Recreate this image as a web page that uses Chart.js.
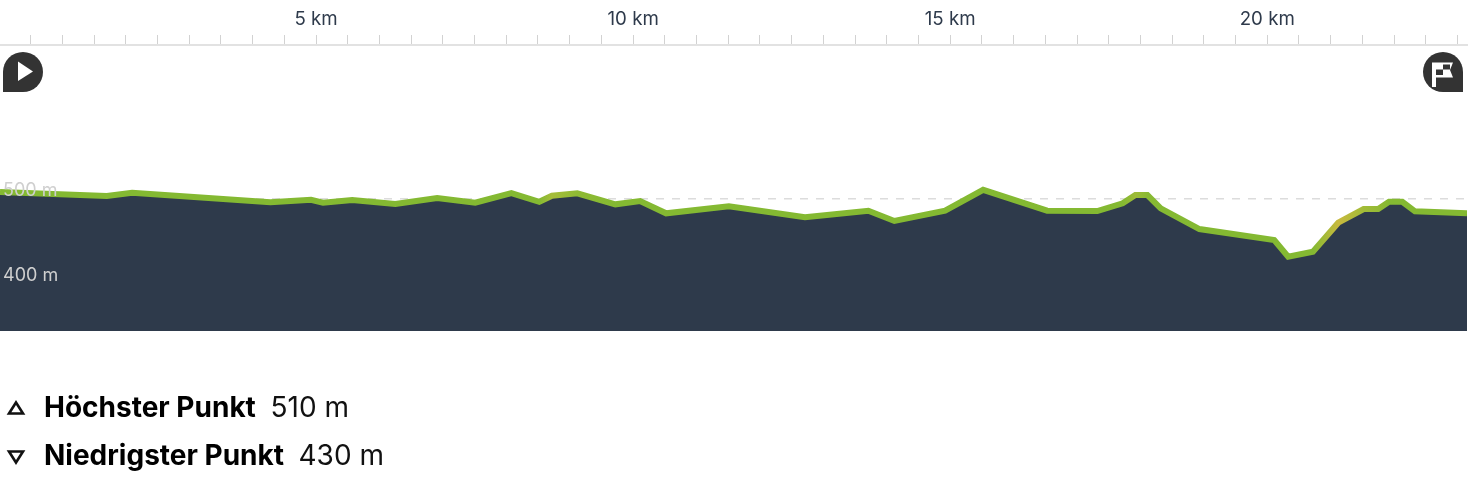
<!DOCTYPE html>
<html lang="de">
<head>
<meta charset="utf-8">
<title>Höhenprofil</title>
<script src="https://cdn.jsdelivr.net/npm/chart.js@4"></script>
<style>
html,body{margin:0;padding:0;background:#fff;width:1470px;height:478px;overflow:hidden}
#wrap{position:relative;width:1470px;height:478px}
canvas{position:absolute;left:0;top:0}
.badge{position:absolute;left:0;top:0}
.stat{position:absolute;font-family:Inter,sans-serif;font-size:28px;line-height:32px;color:#000;white-space:nowrap}
.stat b{position:absolute;left:0;top:0;font-weight:700}
.stat span{position:absolute;top:0;font-weight:400;color:#111}
</style>
</head>
<body>
<div id="wrap">
<canvas id="c" width="1470" height="478"></canvas>
<svg class="badge" width="1470" height="478" viewBox="0 0 1470 478">
  <path d="M3 72a20 20 0 1 1 20 20H3z" fill="#333"/>
  <path d="M18 61.5L33 71.5L18 81z" fill="#fff"/>
  <path d="M1463 72a20 20 0 1 0 -20 20h20z" fill="#333"/>
  <path d="M1432 62.500h21l-3 7.500l3 7.500h-17v9.500h-4z" fill="#fff"/>
  <path d="M1436 69.500h7v5.500h-7zM1443 64.500h7v5h-7z" fill="#333"/>
  <path d="M16 402.500l7 11h-14z" fill="none" stroke="#111" stroke-width="2.600"/>
  <path d="M16 462.500l7 -11h-14z" fill="none" stroke="#111" stroke-width="2.600"/>
</svg>
<div class="stat" id="s0" style="left:44px;top:391px"></div>
<div class="stat" id="s1" style="left:44px;top:439px"></div>
</div>
<script>
const distanceKm = [0.016,1.70,2.10,4.28,4.92,5.11,5.57,6.25,6.91,7.51,8.08,8.52,8.72,9.12,9.72,10.11,10.52,11.51,12.71,13.71,14.12,14.92,15.52,16.53,17.32,17.72,17.92,18.11,18.32,18.93,20.11,20.33,20.72,21.12,21.52,21.75,21.92,22.13,22.33,23.15];
const elevationM = [508.5,503.8,507.6,496.4,499.4,495.9,499,494.4,501.4,495.9,507.3,497,504.1,506.9,494,497.9,483.4,491.6,478.7,486.5,474.4,486.5,511,486.5,486.1,495.2,504.9,504.9,489.3,464.9,452,432.4,438.2,472.4,488.5,488.5,497,497,485.8,483.4];
const lineColors = ['#84b932','#84b932','#84b932','#84b932','#84b932','#84b932','#84b932','#84b932','#84b932','#84b932','#84b932','#84b932','#a6bd3a','#8fba34','#84b932','#84b932','#84b932','#84b932','#84b932','#84b932','#84b932','#84b932','#84b932','#84b932','#84b932','#84b932','#9ebb37','#8aba33','#84b932','#84b932','#84b932','#84b932','#84b932','#c8b93e','#a2bc38','#94ba35','#84b932','#84b932','#84b932','#84b932'];
const yTickValues = [400,500];
const xLabelEvery = 5;
const statLabels = ['Höchster Punkt','Niedrigster Punkt'];
const statValues = ['510 m','430 m'];
const statValueLeft = [226.5,254.5];

statLabels.forEach((t,i)=>{
  const el=document.getElementById('s'+i);
  el.innerHTML='<b></b><span></span>';
  el.children[0].textContent=t;
  el.children[1].textContent=statValues[i];
  el.children[1].style.left=statValueLeft[i]+'px';
});

const points = distanceKm.map((x,i)=>({x,y:elevationM[i]}));
const xMin = 0.016, xMax = 23.15;
const lineGradient = c => {
  const area=c.chart.chartArea;
  if(!area) return lineColors[0];
  const g=c.chart.ctx.createLinearGradient(area.left,0,area.right,0);
  distanceKm.forEach((d,i)=>g.addColorStop(Math.min(1,Math.max(0,(d-xMin)/(xMax-xMin))),lineColors[i]));
  return g;
};

new Chart(document.getElementById('c'),{
  type:'line',
  data:{datasets:[
    {
      data:points,
      borderColor:lineGradient,
      borderWidth:6,
      borderJoinStyle:'miter',
      borderCapStyle:'butt',
      fill:false,
      pointRadius:0,
      tension:0
    },
    {
      data:points,
      borderWidth:0,
      backgroundColor:'#2e3a4b',
      fill:'start',
      pointRadius:0,
      tension:0
    }
  ]},
  options:{
    responsive:false,
    animation:false,
    devicePixelRatio:1,
    layout:{padding:{left:0,right:3,top:0,bottom:147}},
    plugins:{legend:{display:false},tooltip:{enabled:false},title:{display:false}},
    scales:{
      x:{
        type:'linear',position:'top',min:xMin,max:xMax,
        afterFit:s=>{s.height=45;},
        border:{display:true,color:'#e2e2e2',width:2},
        grid:{drawOnChartArea:false,drawTicks:true,tickLength:10,color:'#d2d2d2',lineWidth:1},
        ticks:{stepSize:0.5,includeBounds:false,autoSkip:false,maxRotation:0,padding:4.5,color:'#2e3a4b',
          font:{family:'Inter',size:18.7},
          callback:v=>(v%xLabelEvery===0&&v>0)?v+' km':''}
      },
      y:{
        type:'linear',position:'left',min:345,max:681.4,
        afterFit:s=>{s.width=0;},
        afterBuildTicks:s=>{s.ticks=yTickValues.map(value=>({value}));},
        border:{display:false,dash:[8,8]},
        grid:{color:c=>c.tick&&c.tick.value===500?'#dcdcdc':'transparent',drawTicks:false,lineWidth:1.5},
        ticks:{mirror:true,padding:3,z:2,color:'#cfcfcf',
          font:{family:'Inter',size:18,lineHeight:0.95},
          callback:v=>[v+' m','']}
      }
    }
  }
});
</script>
</body>
</html>
